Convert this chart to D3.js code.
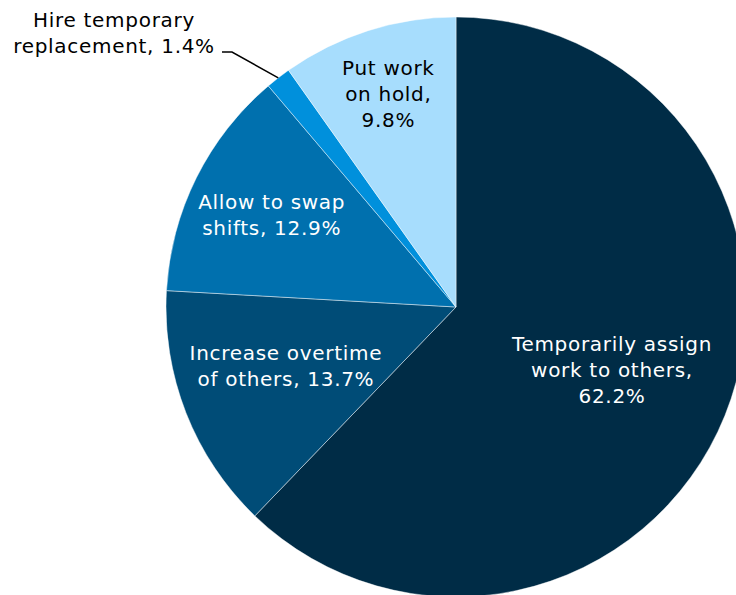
<!DOCTYPE html>
<html>
<head>
<meta charset="utf-8">
<script src="https://cdn.jsdelivr.net/npm/d3@7"></script>
<style>
  body { margin: 0; background: #fff; }
  text { font-family: "DejaVu Sans", Verdana, sans-serif; font-size: 20px; letter-spacing: 0.7px; }
</style>
</head>
<body>
<svg id="chart"></svg>
<script>
var width = 736;
var height = 595;

// slices, clockwise from 12 o'clock
var categories = ["Temporarily assign work to others", "Increase overtime of others", "Allow to swap shifts", "Hire temporary replacement", "Put work on hold"];
var values = [62.2, 13.7, 12.9, 1.4, 9.8];
var label_lines = [
    ["Temporarily assign", "work to others,", "62.2%"],
    ["Increase overtime", "of others, 13.7%"],
    ["Allow to swap", "shifts, 12.9%"],
    ["Hire temporary", "replacement, 1.4%"],
    ["Put work", "on hold,", "9.8%"]
];
var colors = ["#002c46", "#004c77", "#0070ae", "#0090dc", "#a7ddfd"];

var cx = 456, cy = 307, radius = 290;

// how far out the label sits, as fraction of radius, plus a small vertical nudge
var label_r = [0.58, 0.63, 0.71, 0, 0.77];
var label_dy = [0, -8, 0, 0, 0];

var svg = d3.select("#chart")
    .attr("width", width)
    .attr("height", height);

var g = svg.append("g")
    .attr("transform", "translate(" + cx + "," + cy + ")");

var data = categories.map(function(c, i) {
    return { name: c, value: values[i], lines: label_lines[i], color: colors[i], lr: label_r[i], i: i };
});

var pie = d3.pie()
    .sort(null)
    .value(function(d) { return d.value; });

var arc = d3.arc().innerRadius(0).outerRadius(radius);

var arcs = pie(data);

g.selectAll(".slice")
    .data(arcs)
  .enter().append("path")
    .attr("class", "slice")
    .attr("d", arc)
    .attr("fill", function(d) { return d.data.color; })
    .attr("stroke", "rgba(255,255,255,0.45)")
    .attr("stroke-width", 1);

var line_h = 26;

// inside labels
arcs.forEach(function(d) {
    if (d.data.lr == 0) return;
    var mid = (d.startAngle + d.endAngle) / 2;
    var r = radius * d.data.lr;
    var x = Math.sin(mid) * r;
    var y = -Math.cos(mid) * r + label_dy[d.data.i];
    var n = d.data.lines.length;
    var t = g.append("text")
        .attr("text-anchor", "middle")
        .attr("fill", d.data.i == 4 ? "#000" : "#fff");
    d.data.lines.forEach(function(l, k) {
        t.append("tspan")
            .attr("x", x)
            .attr("y", y + (k - (n - 1) / 2) * line_h)
            .attr("dy", "0.35em")
            .text(l);
    });
});

// outside label with leader line for the tiny slice
var small = arcs[3];
var smid = (small.startAngle + small.endAngle) / 2;
var px = Math.sin(smid) * radius;
var py = -Math.cos(smid) * radius;
var ex = 232 - cx, ey = 52 - cy;

g.append("polyline")
    .attr("points", [[px, py], [ex, ey], [ex - 10, ey]].map(function(p) { return p.join(","); }).join(" "))
    .attr("fill", "none")
    .attr("stroke", "#000")
    .attr("stroke-width", 1.5);

var st = g.append("text")
    .attr("text-anchor", "middle")
    .attr("fill", "#000");
small.data.lines.forEach(function(l, k) {
    st.append("tspan")
        .attr("x", 114 - cx)
        .attr("y", 20 - cy + k * line_h)
        .attr("dy", "0.35em")
        .text(l);
});
</script>
</body>
</html>
